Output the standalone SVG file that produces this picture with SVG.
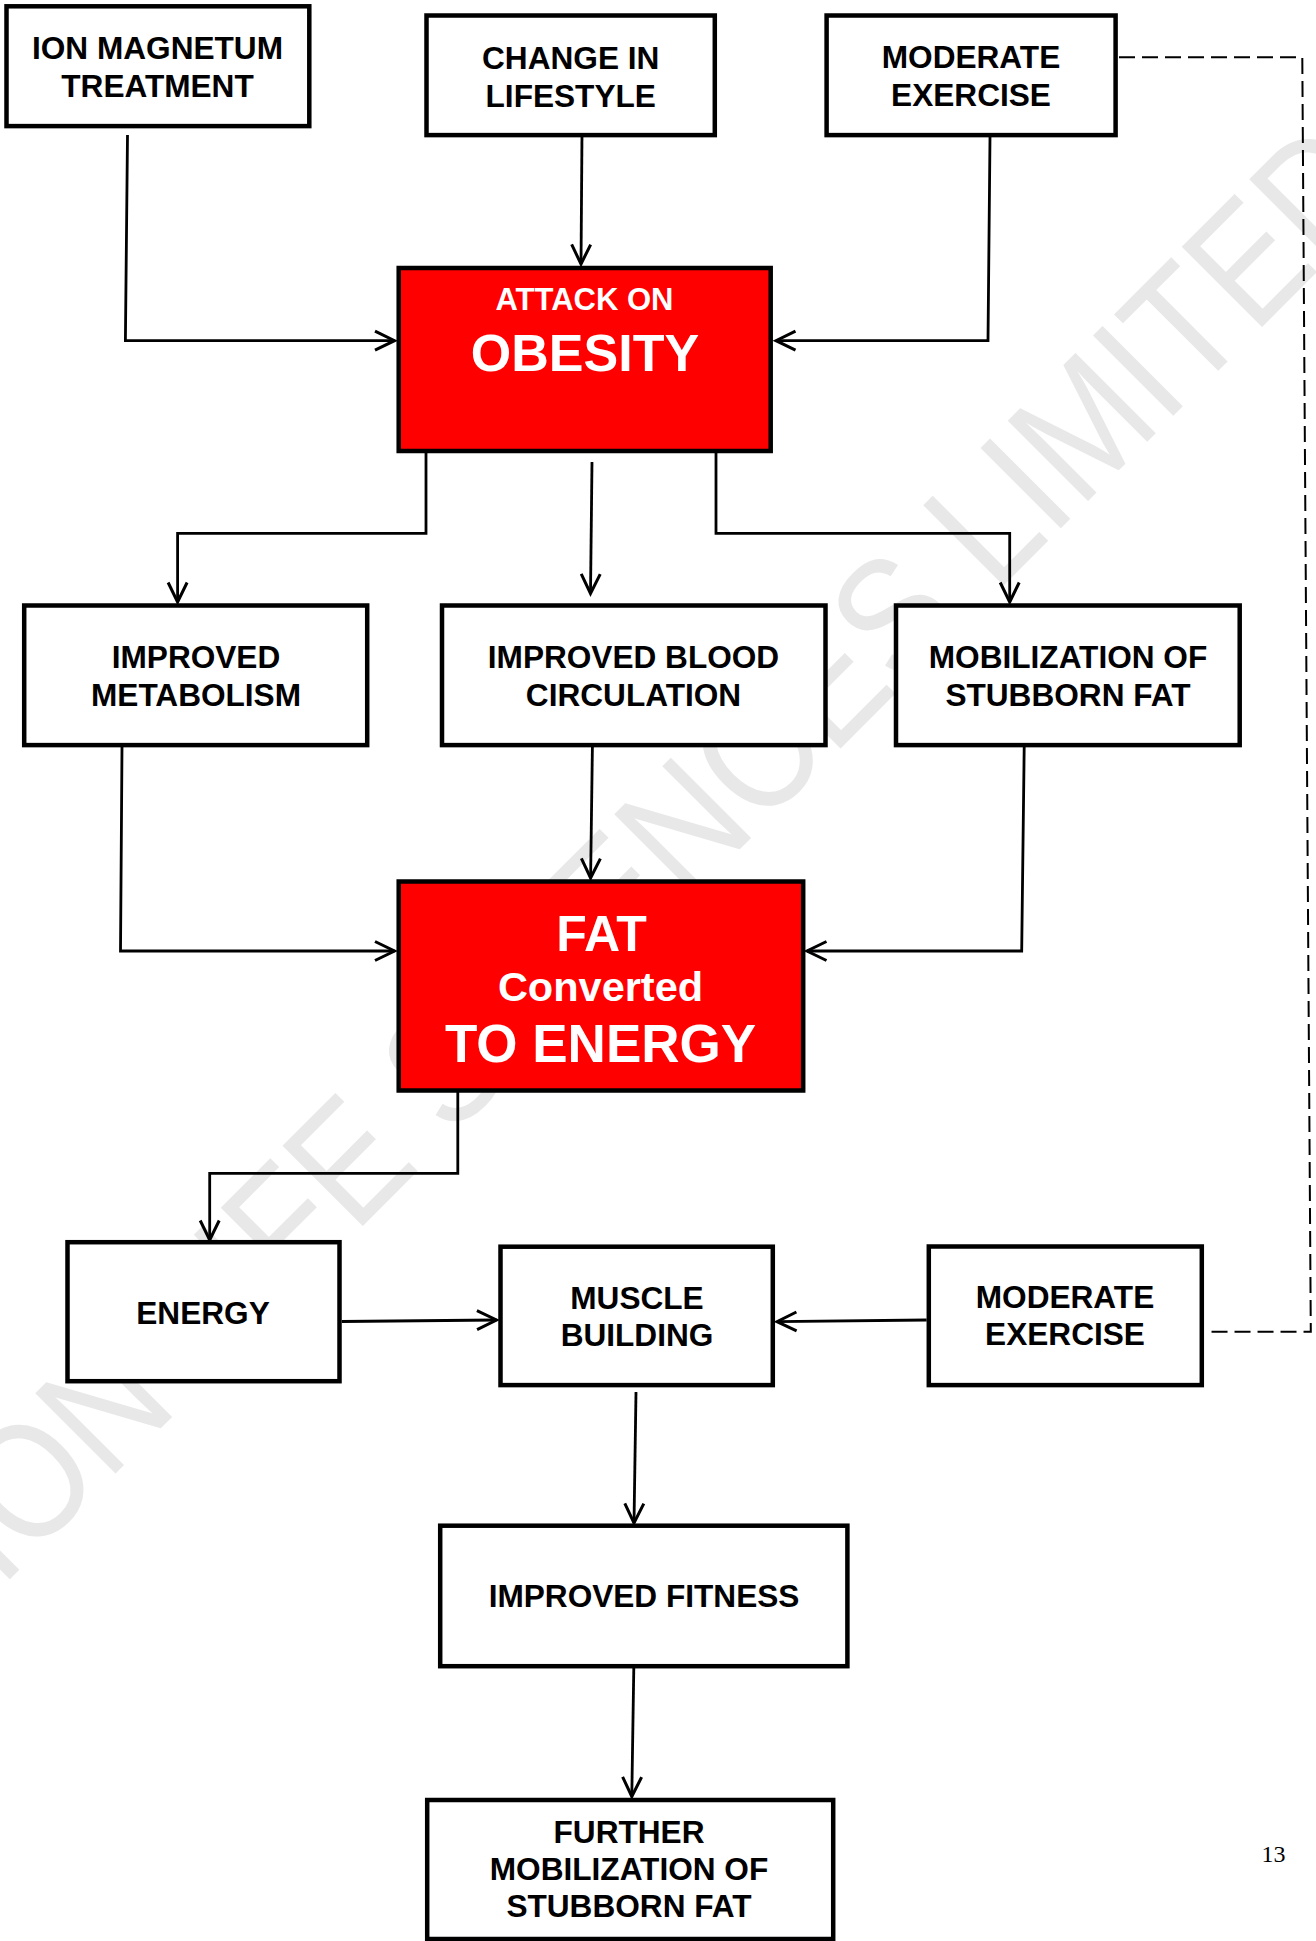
<svg xmlns="http://www.w3.org/2000/svg" width="1316" height="1941" viewBox="0 0 1316 1941">
<style>
.box{fill:#ffffff;stroke:#000000;stroke-width:4.5}
.red{fill:#ff0000;stroke:#000000;stroke-width:4.5}
.lbl{font-family:"Liberation Sans",Arial,sans-serif;font-weight:bold;font-size:31.6px;fill:#000000;text-anchor:middle}
.wl{font-family:"Liberation Sans",Arial,sans-serif;font-weight:bold;fill:#ffffff;text-anchor:middle}
.conn{fill:none;stroke:#000000;stroke-width:2.8}
.dash{fill:none;stroke:#000000;stroke-width:2;stroke-dasharray:16 7}
.wm{font-family:"Liberation Sans",Arial,sans-serif;font-size:165px;fill:#e8e8e8}
.pg{font-family:"Liberation Serif","Times New Roman",serif;font-size:24px;fill:#000000;text-anchor:middle}
</style>
<defs>
<marker id="arr" markerUnits="userSpaceOnUse" viewBox="-24 -14 28 28" markerWidth="28" markerHeight="28" refX="0" refY="0" orient="auto">
<path d="M-19.5,-9.5 L0,0 L-19.5,9.5" fill="none" stroke="#000000" stroke-width="3"/>
</marker>
</defs>
<rect x="0" y="0" width="1316" height="1941" fill="#ffffff"/>
<g id="watermark">
<text class="wm" x="0.6" y="1588.4" transform="rotate(-45 0.6 1588.4)" textLength="1971" lengthAdjust="spacingAndGlyphs">ION LIFE SCIENCES LIMITED</text>
</g>
<g id="connectors">
<polyline class="conn" points="127.5,135 125.4,340.7 394.5,340.7" marker-end="url(#arr)"/>
<polyline class="conn" points="582,133 581,264" marker-end="url(#arr)"/>
<polyline class="conn" points="990,137 988,340.7 776,340.7" marker-end="url(#arr)"/>
<polyline class="conn" points="426,453 426,533.3 177.6,533.3 177.6,602" marker-end="url(#arr)"/>
<polyline class="conn" points="592,462 590.5,593.5" marker-end="url(#arr)"/>
<polyline class="conn" points="716,453 716,533.3 1009.7,533.3 1009.7,602" marker-end="url(#arr)"/>
<polyline class="conn" points="122,747 120.5,951 394.5,951" marker-end="url(#arr)"/>
<polyline class="conn" points="592.4,747 590.6,878" marker-end="url(#arr)"/>
<polyline class="conn" points="1024.2,747 1021.7,951 807,951" marker-end="url(#arr)"/>
<polyline class="conn" points="457.8,1092 457.8,1173.3 209.7,1173.3 209.7,1240" marker-end="url(#arr)"/>
<polyline class="conn" points="341.8,1321.5 496.5,1320" marker-end="url(#arr)"/>
<polyline class="conn" points="926.6,1320 777,1321.7" marker-end="url(#arr)"/>
<polyline class="conn" points="636,1392 634,1523" marker-end="url(#arr)"/>
<polyline class="conn" points="633.8,1668 631.8,1796.5" marker-end="url(#arr)"/>
<polyline class="dash" points="1119,57.3 1302.3,57.3 1310.8,1331.7 1205,1331.7"/>
</g>
<g id="n-ion">
<rect class="box" x="6.5" y="6.3" width="302.8" height="119.8"/>
<text class="lbl" x="157.5" y="59.3">ION MAGNETUM</text>
<text class="lbl" x="157.5" y="97.3">TREATMENT</text>
</g>
<g id="n-change">
<rect class="box" x="426.5" y="15.5" width="288.3" height="119.6"/>
<text class="lbl" x="570.7" y="69.3">CHANGE IN</text>
<text class="lbl" x="570.7" y="107.3">LIFESTYLE</text>
</g>
<g id="n-moderate-top">
<rect class="box" x="826.6" y="15.5" width="289" height="119.6"/>
<text class="lbl" x="971" y="68.3">MODERATE</text>
<text class="lbl" x="971" y="106">EXERCISE</text>
</g>
<g id="n-attack">
<rect class="red" x="398.7" y="268" width="372" height="183"/>
<text class="wl" x="584.5" y="310" font-size="31">ATTACK ON</text>
<text class="wl" x="585" y="370.7" font-size="52">OBESITY</text>
</g>
<g id="n-metabolism">
<rect class="box" x="24.2" y="605.5" width="343" height="139.6"/>
<text class="lbl" x="196" y="668.3">IMPROVED</text>
<text class="lbl" x="196" y="706">METABOLISM</text>
</g>
<g id="n-blood">
<rect class="box" x="442" y="605.5" width="383.5" height="139.6"/>
<text class="lbl" x="633.5" y="668.3">IMPROVED BLOOD</text>
<text class="lbl" x="633.5" y="706">CIRCULATION</text>
</g>
<g id="n-mobilization">
<rect class="box" x="896" y="605.5" width="343.7" height="139.6"/>
<text class="lbl" x="1068" y="668.3">MOBILIZATION OF</text>
<text class="lbl" x="1068" y="706">STUBBORN FAT</text>
</g>
<g id="n-fat">
<rect class="red" x="398.7" y="881.5" width="404.5" height="209"/>
<text class="wl" x="601.5" y="950.7" font-size="50">FAT</text>
<text class="wl" x="600.5" y="1000.7" font-size="41.5">Converted</text>
<text class="wl" x="600.5" y="1061.7" font-size="53">TO ENERGY</text>
</g>
<g id="n-energy">
<rect class="box" x="67.5" y="1242.2" width="272" height="139"/>
<text class="lbl" x="203" y="1324.3">ENERGY</text>
</g>
<g id="n-muscle">
<rect class="box" x="500.5" y="1246.7" width="272.3" height="138.4"/>
<text class="lbl" x="637" y="1308.6">MUSCLE</text>
<text class="lbl" x="637" y="1345.5">BUILDING</text>
</g>
<g id="n-moderate-bottom">
<rect class="box" x="928.8" y="1246.5" width="273" height="138.6"/>
<text class="lbl" x="1065" y="1308.3">MODERATE</text>
<text class="lbl" x="1065" y="1345">EXERCISE</text>
</g>
<g id="n-fitness">
<rect class="box" x="440.2" y="1525.7" width="407.2" height="140.5"/>
<text class="lbl" x="644" y="1607.3">IMPROVED FITNESS</text>
</g>
<g id="n-further">
<rect class="box" x="427.2" y="1800" width="406" height="139"/>
<text class="lbl" x="629" y="1843.3">FURTHER</text>
<text class="lbl" x="629" y="1880">MOBILIZATION OF</text>
<text class="lbl" x="629" y="1916.7">STUBBORN FAT</text>
</g>
<text class="pg" x="1273.5" y="1861.7">13</text>
</svg>
